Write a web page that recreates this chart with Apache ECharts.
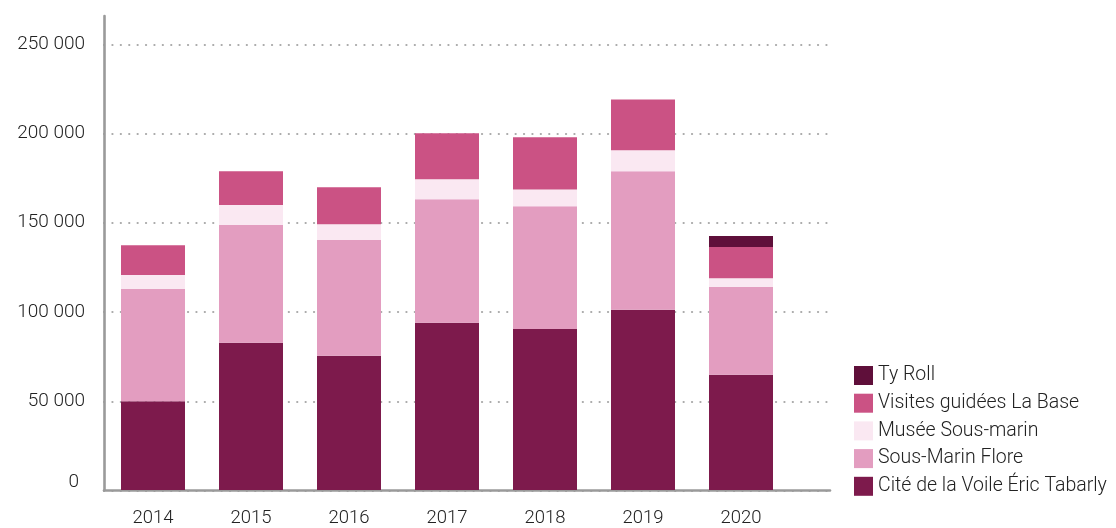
<!DOCTYPE html>
<html>
<head>
<meta charset="utf-8">
<script src="https://cdn.jsdelivr.net/npm/echarts@6/dist/echarts.min.js"></script>
<style>
html,body{margin:0;padding:0;background:#fff;}
#chart{width:1116px;height:528px;}
</style>
</head>
<body>
<div id="chart"></div>
<script>
const years = ['2014','2015','2016','2017','2018','2019','2020'];
const citeVoile = [49800, 82600, 75300, 93800, 90400, 101100, 64700];
const sousMarinFlore = [63000, 66100, 65000, 69400, 68900, 77800, 49200];
const museeSousMarin = [7800, 11200, 8900, 11200, 9400, 11800, 5000];
const visitesBase = [16800, 19000, 20700, 25800, 29200, 28500, 17400];
const tyRoll = ['-', '-', '-', '-', '-', '-', 6200];
const yTicks = [0, 50000, 100000, 150000, 200000, 250000];

const FONT = 'Roboto';
const fmt = v => String(v).replace(/\B(?=(\d{3})+(?!\d))/g, ' ');

const chart = echarts.init(document.getElementById('chart'), null, {renderer: 'canvas'});
const names = ['Cité de la Voile Éric Tabarly', 'Sous-Marin Flore', 'Musée Sous-marin', 'Visites guidées La Base', 'Ty Roll'];
const colors = ['#7d1a4c', '#e39dc0', '#fae8f2', '#cb5284', '#5f0f3a'];
const datas = [citeVoile, sousMarinFlore, museeSousMarin, visitesBase, tyRoll];

chart.setOption({
  animation: false,
  textStyle: {fontFamily: FONT},
  legend: {
    orient: 'vertical',
    left: 854,
    top: 365.5,
    padding: 0,
    itemWidth: 19,
    itemHeight: 19,
    itemGap: 7.7,
    icon: 'rect',
    data: names.slice().reverse(),
    textStyle: {fontFamily: FONT, fontSize: 19.5, fontWeight: 300, color: '#222'},
    selectedMode: false
  },
  grid: [
    {left: 104, width: 686, top: 16, bottom: 37.5},
    {left: 104, right: 286, top: 44.3, bottom: 37.5}
  ],
  xAxis: [
    {
      type: 'category', gridIndex: 0, data: years,
      axisLine: {show: false}, axisTick: {show: false},
      axisLabel: {fontFamily: FONT, fontSize: 18.5, fontWeight: 300, color: '#222', margin: 19}
    },
    {
      type: 'value', gridIndex: 1, min: 0, max: 1,
      axisLine: {show: true, onZero: false, lineStyle: {color: '#9a9a9a', width: 2.6}},
      axisTick: {show: false}, axisLabel: {show: false}, splitLine: {show: false}
    }
  ],
  yAxis: [
    {
      type: 'value', gridIndex: 0, min: 0, max: 266000, interval: 50000,
      axisLine: {show: true, lineStyle: {color: '#9a9a9a', width: 2.6}},
      axisTick: {show: false}, splitLine: {show: false},
      axisLabel: {
        fontFamily: FONT, fontSize: 19, fontWeight: 300, color: '#222', margin: 19, showMaxLabel: false,
        formatter: v => (v === 0 ? '{z|0}' : (yTicks.indexOf(v) >= 0 ? fmt(v) : '')),
        rich: {z: {fontFamily: FONT, fontSize: 19, fontWeight: 300, color: '#222', padding: [0, 6, 16, 0]}}
      }
    },
    {
      type: 'value', gridIndex: 1, min: 0, max: 250000, interval: 50000,
      axisLine: {show: false}, axisTick: {show: false}, axisLabel: {show: false},
      splitLine: {show: true, lineStyle: {color: '#a8a8a8', width: 2.2, type: [0.1, 8.3], cap: 'round'}}
    }
  ],
  series: names.map((n, i) => ({
    name: n, type: 'bar', stack: 'total', xAxisIndex: 0, yAxisIndex: 0,
    barWidth: 64, data: datas[i], itemStyle: {color: colors[i]}
  }))
});
</script>
</body>
</html>
